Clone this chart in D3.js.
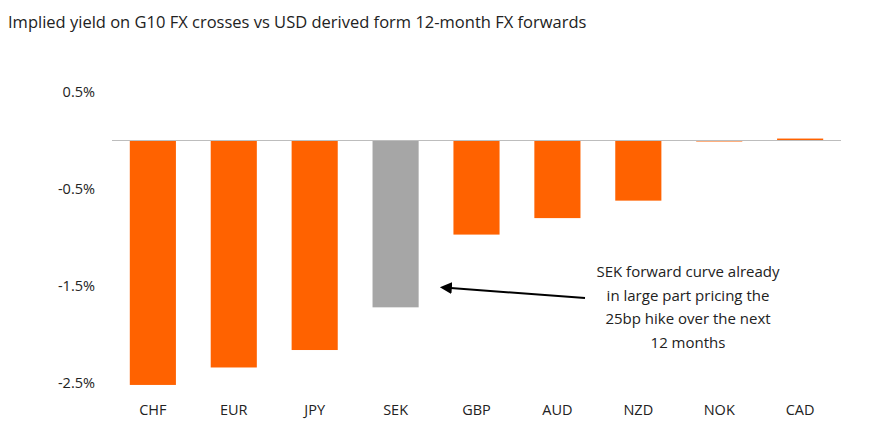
<!DOCTYPE html>
<html>
<head>
<meta charset="utf-8">
<script src="https://cdn.jsdelivr.net/npm/d3@7"></script>
<style>
  body { margin: 0; background: #fff; font-family: "Open Sans", Lato, sans-serif; }
</style>
</head>
<body>
<div id="container"></div>
<script>
// data
const currencies = ["CHF", "EUR", "JPY", "SEK", "GBP", "AUD", "NZD", "NOK", "CAD"];
const yields = [-2.52, -2.34, -2.16, -1.72, -0.97, -0.80, -0.62, -0.01, 0.02];
const tickValues = [0.5, -0.5, -1.5, -2.5];
const highlight = "SEK";

const width = 880, height = 438;

const svg = d3.select("#container").append("svg")
  .attr("width", width).attr("height", height);

// scales
const xScale = d3.scaleBand()
  .domain(currencies)
  .range([112, 841])
  .paddingInner(0.43)
  .paddingOuter(0.22);

const yScale = d3.scaleLinear()
  .domain([-2.5, 0.5])
  .range([383, 92]);

// title
svg.append("text")
  .attr("x", 8).attr("y", 28)
  .attr("font-size", 16.5).attr("fill", "#222")
  .text("Implied yield on G10 FX crosses vs USD derived form 12-month FX forwards");

// y tick labels
svg.selectAll(".ytick").data(tickValues).join("text")
  .attr("x", 95).attr("y", d => yScale(d) + 5)
  .attr("text-anchor", "end").attr("font-size", 14.5).attr("fill", "#222")
  .text(d => d + "%");

// bars
svg.selectAll("rect").data(currencies).join("rect")
  .attr("x", d => xScale(d))
  .attr("width", xScale.bandwidth())
  .attr("y", (d, i) => yScale(Math.max(0, yields[i])))
  .attr("height", (d, i) => Math.max(1, Math.abs(yScale(yields[i]) - yScale(0))))
  .attr("fill", d => d === highlight ? "#a6a6a6" : "#ff6200");

// zero line
svg.append("line")
  .attr("x1", 112).attr("x2", 841)
  .attr("y1", yScale(0)).attr("y2", yScale(0))
  .attr("stroke", "#bdbdbd").attr("stroke-width", 1);

// x labels
svg.selectAll(".xlab").data(currencies).join("text")
  .attr("x", d => xScale(d) + xScale.bandwidth() / 2)
  .attr("y", 415)
  .attr("text-anchor", "middle").attr("font-size", 14.5).attr("fill", "#222")
  .text(d => d);

// annotation
const note = ["SEK forward curve already", "in large part pricing the", "25bp hike over the next", "12 months"];
svg.selectAll(".note").data(note).join("text")
  .attr("x", 688).attr("y", (d, i) => 277 + i * 23.5)
  .attr("text-anchor", "middle").attr("font-size", 15).attr("fill", "#222")
  .text(d => d);

svg.append("defs").append("marker")
  .attr("id", "arr").attr("viewBox", "0 0 10 10")
  .attr("refX", 1).attr("refY", 5)
  .attr("markerWidth", 6).attr("markerHeight", 6)
  .attr("orient", "auto-start-reverse")
  .append("path").attr("d", "M0,0L10,5L0,10z").attr("fill", "#000");

const sekX = xScale(highlight) + xScale.bandwidth();
svg.append("line")
  .attr("x1", 585).attr("y1", 298)
  .attr("x2", sekX + 32).attr("y2", 288)
  .attr("stroke", "#000").attr("stroke-width", 2)
  .attr("marker-end", "url(#arr)");
</script>
</body>
</html>
